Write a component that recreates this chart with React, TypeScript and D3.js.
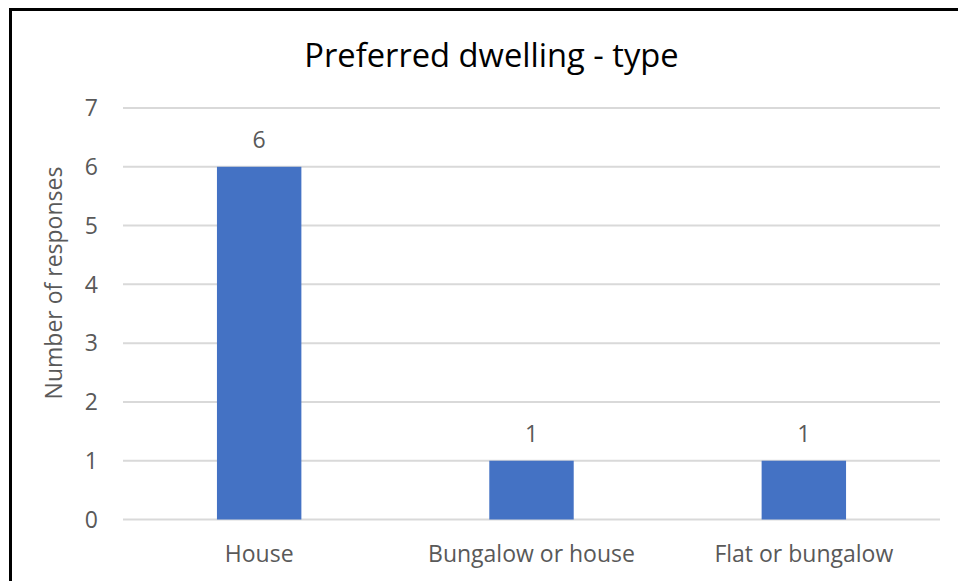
import React from "react";
import * as d3 from "d3";

const categories = ["House", "Bungalow or house", "Flat or bungalow"];
const values = [6, 1, 1];
const yTicks = [0, 1, 2, 3, 4, 5, 6, 7];
const title = "Preferred dwelling - type";
const yTitle = "Number of responses";

const W = 958;
const H = 581;
const FONT = "'Open Sans', sans-serif";
const TEXT = "#595959";
const FS = 23;

export default function App() {
  const x = d3
    .scaleBand<string>()
    .domain(categories)
    .range([123, 940])
    .paddingInner(0.69)
    .paddingOuter(0.345);
  const y = d3.scaleLinear().domain([0, 7]).range([519.5, 108]);

  return (
    <svg
      width={W}
      height={H}
      style={{ position: "absolute", left: 0, top: 0, background: "#fff" }}
    >
      <rect x={0} y={0} width={W} height={H} fill="#fff" />
      <rect
        x={10.5}
        y={9.5}
        width={W + 20}
        height={H + 20}
        fill="#fff"
        stroke="#000"
        strokeWidth={3}
      />
      <text
        x={491.5}
        y={67}
        textAnchor="middle"
        fontFamily={FONT}
        fontSize={32.7}
        fill="#000"
      >
        {title}
      </text>
      {yTicks.map((t) => (
        <g key={t}>
          <line
            x1={123}
            x2={940}
            y1={y(t)}
            y2={y(t)}
            stroke="#D9D9D9"
            strokeWidth={2}
          />
          <text
            x={98}
            y={y(t) + 8.3}
            textAnchor="end"
            fontFamily={FONT}
            fontSize={FS}
            fill={TEXT}
          >
            {t}
          </text>
        </g>
      ))}
      {categories.map((c, i) => (
        <g key={c}>
          <rect
            x={x(c)}
            y={y(values[i])}
            width={x.bandwidth()}
            height={y(0) - y(values[i])}
            fill="#4472C4"
          />
          <text
            x={(x(c) as number) + x.bandwidth() / 2}
            y={y(values[i]) - 18.5}
            textAnchor="middle"
            fontFamily={FONT}
            fontSize={FS}
            fill={TEXT}
          >
            {values[i]}
          </text>
          <text
            x={(x(c) as number) + x.bandwidth() / 2}
            y={561.7}
            textAnchor="middle"
            fontFamily={FONT}
            fontSize={FS}
            fill={TEXT}
          >
            {c}
          </text>
        </g>
      ))}
      <text
        transform={`translate(61.5,283) rotate(-90)`}
        textAnchor="middle"
        fontFamily={FONT}
        fontSize={FS}
        fill={TEXT}
      >
        {yTitle}
      </text>
    </svg>
  );
}
